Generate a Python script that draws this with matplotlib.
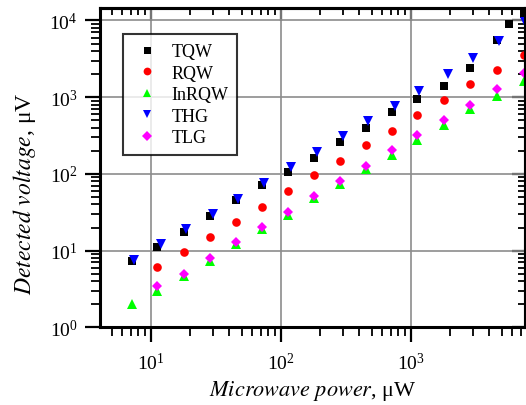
import numpy as np
import matplotlib
matplotlib.use("Agg")
import matplotlib.pyplot as plt

plt.rcParams['font.family'] = ['Liberation Serif', 'DejaVu Serif']
plt.rcParams['mathtext.fontset'] = 'stix'

# --- data (microwave power in uW, detected voltage in uV) ---
p_tqw = [7.2, 11.2, 18, 28.6, 45, 72, 114, 181, 284, 452, 722, 1124, 1812, 2870, 4600, 5700, 7350]
v_tqw = [7.4, 11.1, 17.7, 28.6, 45.8, 72, 107, 162, 264, 395, 638, 952, 1407, 2415, 5600, 8870, 12200]

p_rqw = [11.2, 18, 28.6, 45, 72, 114, 181, 284, 452, 722, 1124, 1812, 2870, 4600, 7350]
v_rqw = [6.1, 9.7, 14.9, 23.9, 37.4, 59.5, 97, 149, 239, 364, 589, 915, 1480, 2275, 3570]

p_inrqw = [7.2, 11.2, 18, 28.6, 45, 72, 114, 181, 284, 452, 722, 1124, 1812, 2870, 4600, 7350]
v_inrqw = [2.0, 3.0, 4.6, 7.4, 12.2, 19.2, 29.4, 48.2, 74, 116, 177, 280, 440, 705, 1050, 1650]

p_thg = [7.44, 11.9, 18.7, 30, 47, 74.4, 119, 189, 300, 470, 750, 1160, 1920, 3000, 4770, 7500]
v_thg = [7.6, 12.2, 19.2, 30.1, 47.2, 76.3, 122, 192, 310, 487, 764, 1222, 2017, 3230, 5390, 9530]

p_tlg = [11.2, 18, 28.6, 45, 72, 114, 181, 284, 452, 722, 1124, 1812, 2870, 4600, 7350]
v_tlg = [3.5, 5.0, 8.0, 13.1, 20.5, 31.7, 52, 80, 128, 206, 323, 511, 802, 1285, 2080]

series = [
    ("TQW", p_tqw, v_tqw, 's', 'black', 5.6),
    ("RQW", p_rqw, v_rqw, 'o', 'red', 6.2),
    ("InRQW", p_inrqw, v_inrqw, '^', '#00ff00', 6.8),
    ("THG", p_thg, v_thg, 'v', 'blue', 6.8),
    ("TLG", p_tlg, v_tlg, 'D', 'magenta', 5.2),
]

fig = plt.figure(figsize=(5.26, 4.06), dpi=100)
ax = fig.add_axes([0.190, 0.1914, 0.809, 0.787])

for name, p, v, m, c, ms in series:
    ax.plot(p, v, linestyle='none', marker=m, color=c, markersize=ms,
            markeredgewidth=0, label=name)

ax.set_xscale('log')
ax.set_yscale('log')
ax.set_xlim(4.07, 7600)
ax.set_ylim(1, 14650)

ax.grid(True, which='major', color='#8c8c8c', linewidth=1.2)
ax.set_axisbelow(True)

for s in ax.spines.values():
    s.set_linewidth(2.2)

ax.tick_params(which='major', direction='out', length=11, width=1.6,
               labelsize=14)
ax.tick_params(axis='x', which='major', pad=7)
ax.tick_params(axis='y', which='major', pad=5)
ax.tick_params(which='minor', direction='out', length=6.5, width=1.3)
ax.xaxis.set_minor_formatter(matplotlib.ticker.NullFormatter())
ax.yaxis.set_minor_formatter(matplotlib.ticker.NullFormatter())

# inward ticks on top and right
top = ax.secondary_xaxis('top')
top.tick_params(which='major', direction='in', length=9.5, width=1.6, labeltop=False)
top.tick_params(which='minor', direction='in', length=5, width=1.3)
top.xaxis.set_major_formatter(matplotlib.ticker.NullFormatter())
right = ax.secondary_yaxis('right')
right.tick_params(which='major', direction='in', length=9.5, width=1.6, labelright=False)
right.tick_params(which='minor', direction='in', length=5, width=1.3)
right.yaxis.set_major_formatter(matplotlib.ticker.NullFormatter())
for sec in (top, right):
    for s in sec.spines.values():
        s.set_linewidth(2.2)

ax.set_xlabel(r'$\mathit{Microwave\ power}$, μW', fontsize=16, labelpad=3)
ax.set_ylabel(r'$\mathit{Detected\ voltage}$, μV', fontsize=17)
ax.yaxis.set_label_coords(-0.145, 0.42)

leg = ax.legend(loc='upper left', bbox_to_anchor=(0.055, 0.918), borderaxespad=0,
                fontsize=13, frameon=True, fancybox=False, handlelength=1.6,
                handletextpad=0.55, labelspacing=0.25, borderpad=0.5, numpoints=1,
                markerscale=0.9)
leg.get_frame().set_edgecolor('black')
leg.get_frame().set_linewidth(1.5)

fig.savefig('out.png', dpi=100)
